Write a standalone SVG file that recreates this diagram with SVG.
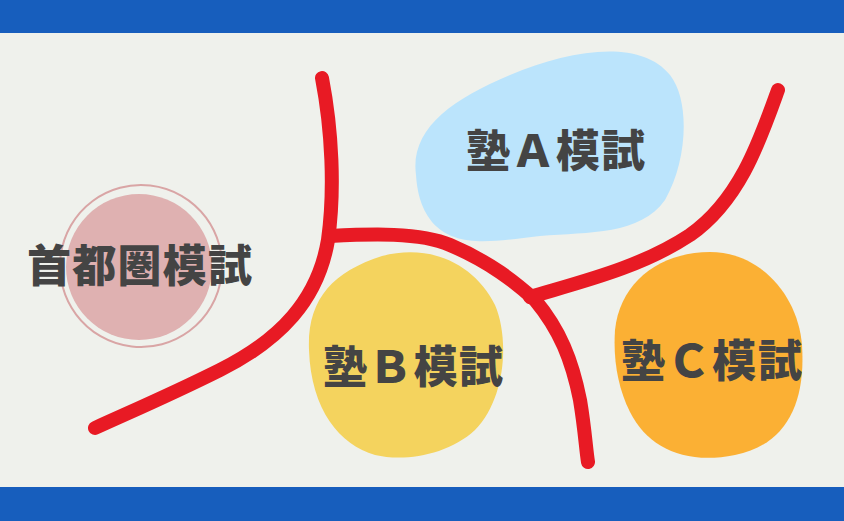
<svg xmlns="http://www.w3.org/2000/svg" width="844" height="521" viewBox="0 0 844 521">
<style>
.bar{fill:#175EBD}
.lbl{font-family:"Noto Sans CJK JP","Noto Sans",sans-serif;font-weight:900;font-size:44px;fill:#444444}
.road{fill:none;stroke:#E81A24;stroke-width:14;stroke-linecap:round;stroke-linejoin:round}
</style>
<rect width="844" height="521" fill="#EFF1EC"/>
<rect class="bar" x="0" y="0" width="844" height="33"/>
<rect class="bar" x="0" y="487" width="844" height="34"/>
<g id="shuto">
<circle cx="139" cy="267" r="73" fill="#DFB1B1"/>
<ellipse cx="141" cy="266" rx="81" ry="81" fill="none" stroke="#D9A5A5" stroke-width="2" transform="rotate(-15 141 266)"/>
<text class="lbl" x="27" y="282" textLength="225">首都圏模試</text>
</g>
<g id="jukuA">
<path d="M416,175 C410,130 450,100 510,75 C570,50 640,38 670,75 C690,100 688,160 665,200 C640,235 590,232 540,236 C490,242 455,248 432,222 C420,207 417,190 416,175 Z" fill="#BBE4FC"/>
<text class="lbl" x="466" y="167" textLength="179">塾Ａ模試</text>
</g>
<g id="jukuB">
<path d="M309,350 C307,300 332,272 382,256 C432,243 475,265 495,305 C510,340 505,400 475,430 C448,455 405,462 375,455 C340,445 311,410 309,350 Z" fill="#F4D35E"/>
<text class="lbl" x="323" y="383" textLength="180">塾Ｂ模試</text>
</g>
<g id="jukuC">
<path d="M615,330 C620,282 660,252 710,252 C760,252 798,295 802,345 C806,405 785,445 735,455 C685,465 648,448 630,412 C618,388 613,360 615,330 Z" fill="#FBB034"/>
<text class="lbl" x="621" y="377" textLength="181">塾Ｃ模試</text>
</g>
<g id="connectors">
<path class="road" d="M322,78 C332,130 335,190 328,240 C318,300 280,340 220,370 C170,395 130,412 95,428"/>
<path class="road" d="M330,236 C370,234 420,232 450,245 C490,262 515,282 535,300 C560,330 572,360 580,400 C585,430 586,450 588,462"/>
<path class="road" d="M530,297 C580,282 640,268 690,235 C740,200 760,140 778,90"/>
</g>
</svg>
